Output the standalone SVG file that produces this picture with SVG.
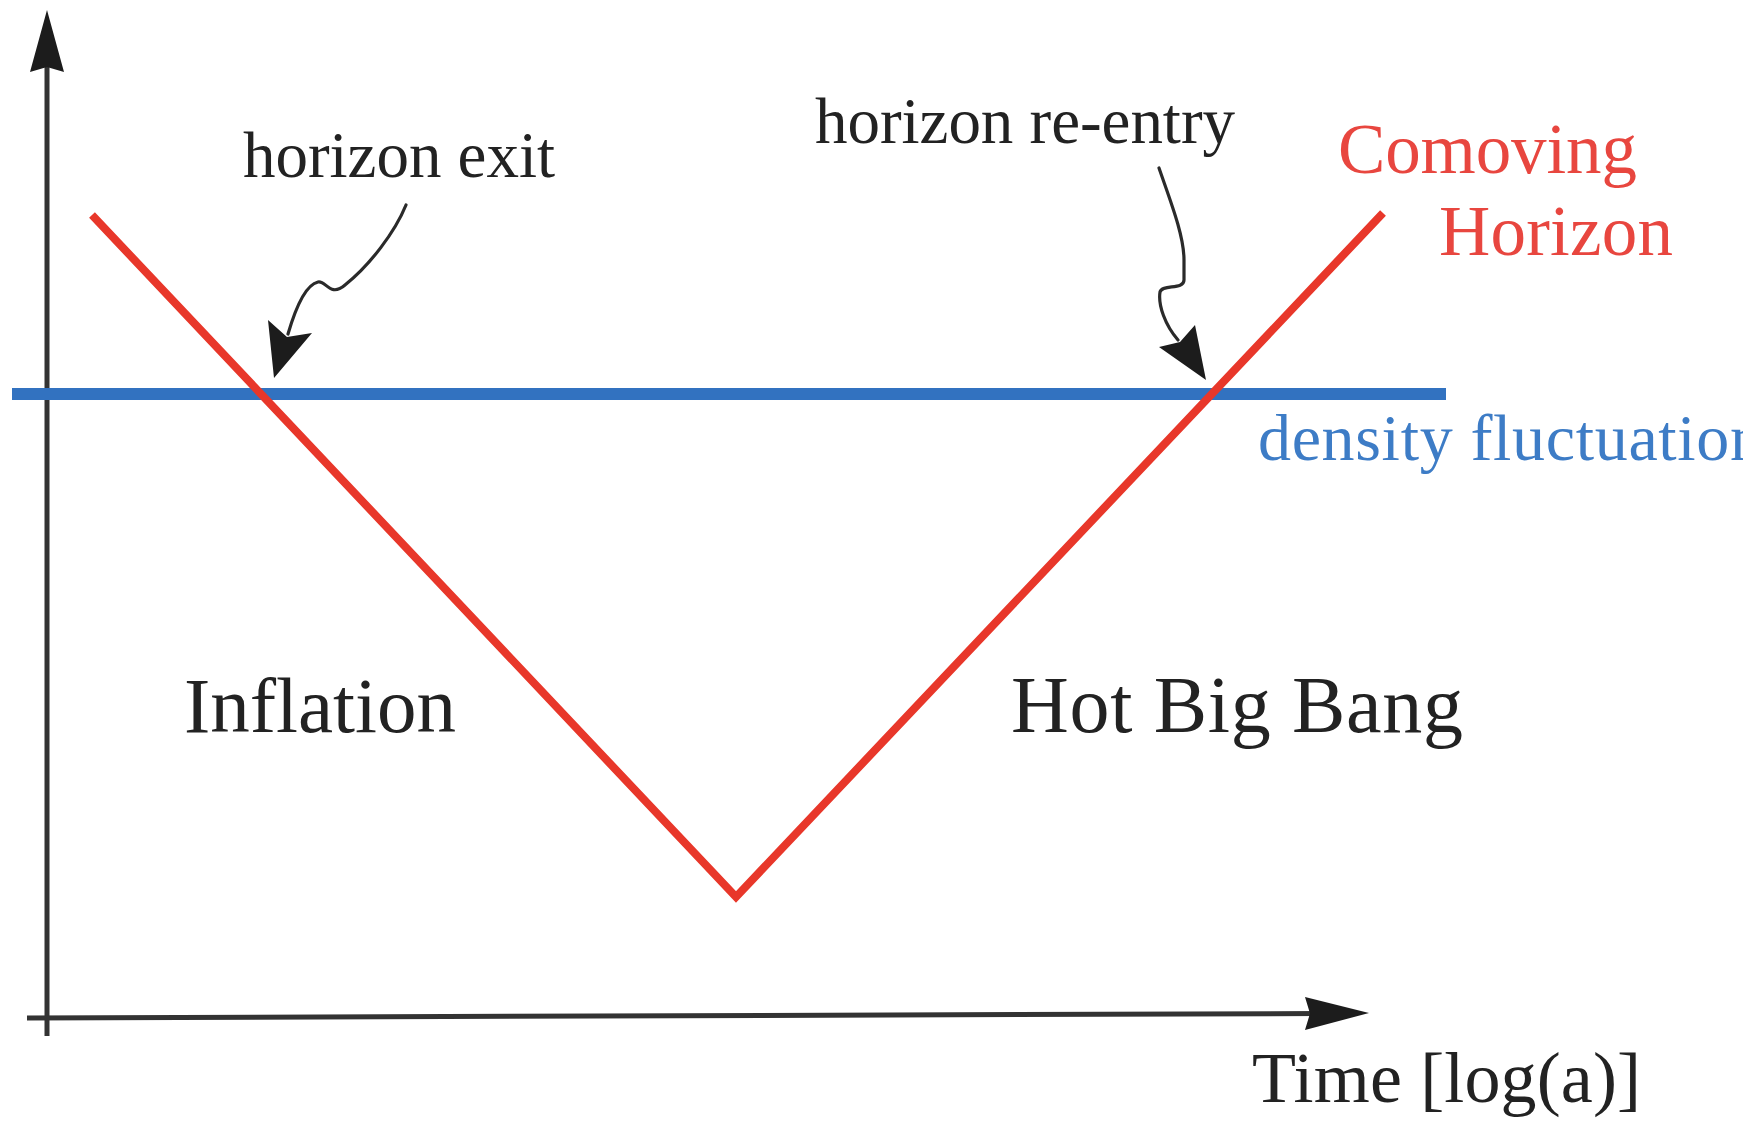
<svg xmlns="http://www.w3.org/2000/svg" width="1743" height="1121" viewBox="0 0 1743 1121">
<style>
.lbl{font-family:"Liberation Serif","Times New Roman",serif;fill:#222}
.red{fill:#e8463f}
.blue{fill:#3d7cc6}
.ax{stroke:#333;stroke-width:5;fill:none}
.head{fill:#1c1c1c}
.squig{stroke:#2a2a2a;stroke-width:3.2;fill:none;stroke-linecap:round}
</style>
<rect width="1743" height="1121" fill="#fff"/>
<g id="axes">
<line class="ax" x1="47" y1="1036" x2="47" y2="60"/>
<polygon class="head" points="47,10 30,72 47,67 64,72"/>
<line class="ax" x1="27" y1="1018" x2="1320" y2="1013.5"/>
<polygon class="head" points="1369,1013 1305,997 1310,1013.5 1305,1030"/>
</g>
<g id="density-fluctuation">
<line x1="12" y1="394" x2="1446" y2="394" stroke="#3272c0" stroke-width="12"/>
<text class="lbl blue" x="1258" y="460" font-size="66" textLength="505">density fluctuation</text>
</g>
<g id="comoving-horizon">
<polyline points="92,215 736,897 1383,213" fill="none" stroke="#e8372a" stroke-width="8" stroke-linejoin="miter"/>
<text class="lbl red" x="1338" y="173" font-size="71" textLength="299">Comoving</text>
<text class="lbl red" x="1439" y="255" font-size="71" textLength="234">Horizon</text>
</g>
<g id="connectors">
<path class="squig" d="M406 205 C395 232, 370 265, 345 285 C330 298, 326 280, 318 282 C305 285, 295 310, 288 334"/>
<polygon class="head" points="274,378 268,320 287,337 312,333"/>
<path class="squig" d="M1159 168 C1170 200, 1184 235, 1184 260 L1184 280 C1184 290, 1162 284, 1160 292 C1158 305, 1165 325, 1178 340"/>
<polygon class="head" points="1206,380 1159,347 1180,342 1195,325"/>
</g>
<g id="horizon-exit"><text class="lbl" x="243" y="177" font-size="65" textLength="312">horizon exit</text></g>
<g id="horizon-reentry"><text class="lbl" x="815" y="143" font-size="65" textLength="420">horizon re-entry</text></g>
<g id="inflation"><text class="lbl" x="184" y="732" font-size="79" textLength="272">Inflation</text></g>
<g id="hot-big-bang"><text class="lbl" x="1011" y="732" font-size="80" textLength="452">Hot Big Bang</text></g>
<g id="time-axis-label"><text class="lbl" x="1252" y="1102" font-size="72" textLength="389">Time [log(a)]</text></g>
</svg>
